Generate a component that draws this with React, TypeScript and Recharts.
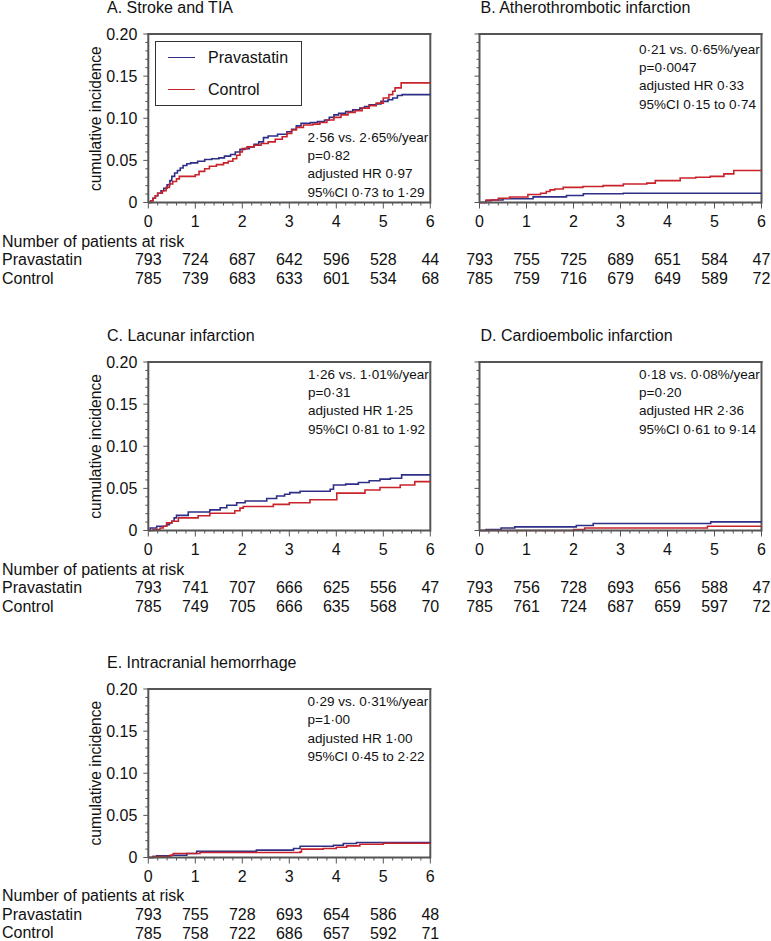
import { LineChart, Line, XAxis, YAxis, ReferenceLine, Legend } from "recharts";

// step points [years, cumulative incidence]
const strokePrav = [[0,0],[0.05,0.002],[0.1,0.005],[0.15,0.008],[0.2,0.011],[0.27,0.014],[0.33,0.017],[0.4,0.021],[0.46,0.026],[0.5,0.031],[0.56,0.035],[0.62,0.038],[0.68,0.041],[0.74,0.044],[0.82,0.046],[0.9,0.047],[1.05,0.049],[1.2,0.051],[1.35,0.052],[1.5,0.053],[1.62,0.055],[1.75,0.057],[1.85,0.06],[1.95,0.063],[2.05,0.064],[2.15,0.066],[2.25,0.069],[2.35,0.072],[2.45,0.077],[2.55,0.079],[2.75,0.081],[2.95,0.084],[3.05,0.087],[3.15,0.091],[3.25,0.094],[3.45,0.095],[3.6,0.096],[3.75,0.098],[3.85,0.101],[3.95,0.104],[4.05,0.106],[4.2,0.108],[4.35,0.11],[4.5,0.112],[4.6,0.114],[4.7,0.116],[4.85,0.117],[4.95,0.12],[5.1,0.122],[5.2,0.124],[5.3,0.127],[5.4,0.128],[6,0.128]];
const strokeCtrl = [[0,0],[0.05,0.002],[0.1,0.005],[0.15,0.008],[0.2,0.011],[0.3,0.014],[0.38,0.018],[0.45,0.022],[0.52,0.025],[0.6,0.028],[0.66,0.031],[1.0,0.033],[1.08,0.037],[1.2,0.04],[1.3,0.043],[1.45,0.045],[1.6,0.047],[1.7,0.049],[1.8,0.052],[1.88,0.056],[1.95,0.06],[2.0,0.064],[2.1,0.066],[2.25,0.068],[2.4,0.07],[2.55,0.072],[2.7,0.075],[2.85,0.078],[2.95,0.082],[3.05,0.086],[3.15,0.089],[3.3,0.092],[3.5,0.093],[3.65,0.095],[3.8,0.098],[3.95,0.101],[4.1,0.104],[4.25,0.107],[4.4,0.109],[4.55,0.112],[4.7,0.115],[4.85,0.118],[5.0,0.124],[5.12,0.128],[5.2,0.132],[5.25,0.136],[5.38,0.142],[6,0.142]];

const atheroPrav = [[0,0],[0.14,0.002],[0.25,0.003],[0.5,0.0044],[1.14,0.0067],[1.85,0.0083],[2.21,0.0103],[3.06,0.011],[6,0.011]];
const atheroCtrl = [[0,0],[0.14,0.003],[0.4,0.005],[0.64,0.0065],[1.03,0.0095],[1.3,0.011],[1.42,0.013],[1.5,0.015],[1.6,0.016],[1.78,0.018],[2.2,0.019],[2.63,0.02],[3.06,0.022],[3.56,0.023],[3.74,0.026],[4.27,0.029],[4.6,0.03],[4.91,0.031],[5.2,0.034],[5.41,0.038],[6,0.038]];

const lacunarPrav = [[0,0],[0.04,0.003],[0.18,0.005],[0.39,0.007],[0.45,0.009],[0.5,0.011],[0.55,0.015],[0.6,0.018],[0.85,0.022],[1.31,0.0245],[1.53,0.027],[1.67,0.03],[1.88,0.033],[2.06,0.035],[2.52,0.038],[2.73,0.041],[2.9,0.043],[3.01,0.045],[3.23,0.0465],[3.87,0.049],[3.94,0.054],[4.2,0.055],[4.47,0.057],[4.7,0.059],[4.93,0.061],[5.15,0.062],[5.39,0.066],[6,0.066]];
const lacunarCtrl = [[0,0],[0.1,0.001],[0.25,0.003],[0.32,0.005],[0.39,0.009],[0.5,0.011],[0.64,0.015],[1.06,0.0175],[1.31,0.0205],[1.84,0.0235],[1.95,0.0265],[2.02,0.0285],[2.66,0.031],[3.0,0.033],[3.44,0.0365],[4.01,0.0444],[4.61,0.048],[4.93,0.051],[5.36,0.054],[5.67,0.058],[6,0.058]];

const cardioPrav = [[0,0],[0.14,0.0012],[0.46,0.003],[0.75,0.0043],[2.06,0.006],[2.42,0.0083],[4.92,0.0102],[6,0.0102]];
const cardioCtrl = [[0,0],[2.0,0.0012],[2.24,0.003],[4.85,0.005],[6,0.005]];

const ichPrav = [[0,0],[0.1,0.001],[0.18,0.002],[0.5,0.0027],[0.82,0.0048],[1.03,0.0075],[2.3,0.0087],[3.09,0.0107],[3.23,0.0134],[3.94,0.0146],[4.15,0.0166],[4.43,0.0178],[6,0.018]];
const ichCtrl = [[0,0],[0.1,0.001],[0.46,0.0027],[0.53,0.0048],[1.1,0.006],[3.23,0.0067],[3.26,0.01],[3.72,0.0107],[4.0,0.0122],[4.22,0.0138],[4.5,0.0158],[5.0,0.017],[6,0.017]];

// numbers at risk at years 0..6
const riskStrokePrav = [793, 724, 687, 642, 596, 528, 44];
const riskStrokeCtrl = [785, 739, 683, 633, 601, 534, 68];
const riskAtheroPrav = [793, 755, 725, 689, 651, 584, 47];
const riskAtheroCtrl = [785, 759, 716, 679, 649, 589, 72];
const riskLacunarPrav = [793, 741, 707, 666, 625, 556, 47];
const riskLacunarCtrl = [785, 749, 705, 666, 635, 568, 70];
const riskCardioPrav = [793, 756, 728, 693, 656, 588, 47];
const riskCardioCtrl = [785, 761, 724, 687, 659, 597, 72];
const riskIchPrav = [793, 755, 728, 693, 654, 586, 48];
const riskIchCtrl = [785, 758, 722, 686, 657, 592, 71];

const statsStroke = ["2·56 vs. 2·65%/year", "p=0·82", "adjusted HR 0·97", "95%CI 0·73 to 1·29"];
const statsAthero = ["0·21 vs. 0·65%/year", "p=0·0047", "adjusted HR 0·33", "95%CI 0·15 to 0·74"];
const statsLacunar = ["1·26 vs. 1·01%/year", "p=0·31", "adjusted HR 1·25", "95%CI 0·81 to 1·92"];
const statsCardio = ["0·18 vs. 0·08%/year", "p=0·20", "adjusted HR 2·36", "95%CI 0·61 to 9·14"];
const statsIch = ["0·29 vs. 0·31%/year", "p=1·00", "adjusted HR 1·00", "95%CI 0·45 to 2·22"];

const seriesOrder = ["Pravastatin", "Control"];

const xTicks = Array.from({ length: 31 }, (_, k) => k / 5);
const yTicks = Array.from({ length: 21 }, (_, k) => k / 100);

const FONT = '"Liberation Sans", Arial, Helvetica, sans-serif';
const AXIS = "#555";
const INK = "#111";
const BLUE = "#2e2e86";
const RED = "#c8232a";
const PLOT_H = 168.5;
const TOP_PAD = 25;
const Y_W = 2;

const toPts = (arr: number[][]) => arr.map(([t, v]) => ({ t, v }));

function XTick({ x, y, payload, prav, ctrl }: any) {
  const v = payload.value;
  const i = Math.round(v);
  const major = Math.abs(v - i) < 1e-6;
  return (
    <g>
      <line x1={x} y1={y} x2={x} y2={y + (major ? 6 : 3)} stroke={AXIS} strokeWidth={1} />
      {major && (
        <>
          <text x={x} y={y + 24.5} textAnchor="middle" fontSize={16} fill={INK} fontFamily={FONT}>{i}</text>
          <text x={x} y={y + 62.5} textAnchor="middle" fontSize={16} fill={INK} fontFamily={FONT}>{prav[i]}</text>
          <text x={x} y={y + 81} textAnchor="middle" fontSize={16} fill={INK} fontFamily={FONT}>{ctrl[i]}</text>
        </>
      )}
    </g>
  );
}

function YTick({ x, y, payload, showLabel }: any) {
  const v = payload.value;
  const major = Math.abs(v * 20 - Math.round(v * 20)) < 1e-6;
  return (
    <g>
      <line x1={x - (major ? 5 : 3)} y1={y} x2={x} y2={y} stroke={AXIS} strokeWidth={1} />
      {major && showLabel && (
        <text x={x - 11} y={y + 5.5} textAnchor="end" fontSize={16} fill={INK} fontFamily={FONT}>
          {v === 0 ? "0" : v.toFixed(2)}
        </text>
      )}
    </g>
  );
}

function LegendBox({ payload }: any) {
  const rows = [...(payload || [])].sort((a: any, b: any) => seriesOrder.indexOf(a.value) - seriesOrder.indexOf(b.value));
  return (
    <div style={{ width: "100%", height: "100%", boxSizing: "border-box", border: "1.5px solid #333", position: "relative", background: "#fff", fontFamily: FONT }}>
      {rows.map((p: any, i: number) => (
        <div key={p.value} style={{ position: "absolute", left: 0, top: 6 + i * 31.5, height: 20, width: "100%" }}>
          <div style={{ position: "absolute", left: 12, top: 9, width: 27, height: 0, borderTop: `1.6px solid ${p.color}` }} />
          <div style={{ position: "absolute", left: 52, top: 0, fontSize: 16, lineHeight: "20px", color: INK }}>{p.value}</div>
        </div>
      ))}
    </div>
  );
}

function Panel({ left, plotLeft, width, plotTop, prav, ctrl, riskPrav, riskCtrl, showY, legend }: any) {
  const chartTop = plotTop - TOP_PAD;
  const height = TOP_PAD + PLOT_H + 95;
  const mLeft = plotLeft - left - Y_W;
  return (
    <div style={{ position: "absolute", left, top: chartTop }}>
      <LineChart width={width} height={height} margin={{ top: TOP_PAD, right: width - (plotLeft - left) - 282, bottom: 0, left: mLeft }}>
        <XAxis
          dataKey="t"
          type="number"
          domain={[0, 6]}
          ticks={xTicks}
          interval={0}
          height={95}
          tickSize={0}
          tickMargin={0}
          tickLine={false}
          axisLine={{ stroke: AXIS, strokeWidth: 2 }}
          tick={(p: any) => <XTick {...p} prav={riskPrav} ctrl={riskCtrl} />}
        />
        <YAxis
          type="number"
          domain={[0, 0.2]}
          ticks={yTicks}
          interval={0}
          width={Y_W}
          tickSize={0}
          tickMargin={0}
          tickLine={false}
          axisLine={{ stroke: AXIS, strokeWidth: 2 }}
          tick={(p: any) => <YTick {...p} showLabel={showY} />}
        />
        <ReferenceLine y={0.2} stroke={AXIS} strokeWidth={2} strokeLinecap="square" />
        <ReferenceLine x={6} stroke={AXIS} strokeWidth={2} strokeLinecap="square" />
        <Line data={toPts(prav)} dataKey="v" name="Pravastatin" type="stepAfter" stroke={BLUE} strokeWidth={1.6} dot={false} isAnimationActive={false} />
        <Line data={toPts(ctrl)} dataKey="v" name="Control" type="stepAfter" stroke={RED} strokeWidth={1.6} dot={false} isAnimationActive={false} />
        {legend && (
          <Legend
            layout="vertical"
            align="center"
            verticalAlign="middle"
            wrapperStyle={{ left: 155 - left, top: 41.5 - chartTop, width: 147, height: 64.5 }}
            content={(p: any) => <LegendBox payload={p.payload} />}
          />
        )}
      </LineChart>
    </div>
  );
}

const LEFT = { left: 0, plotLeft: 148.3, width: 445 };
const RIGHT = { left: 440, plotLeft: 479.5, width: 331 };
const ROW1 = 34.4;
const ROW2 = 362.2;
const ROW3 = 688.9;

function Texts() {
  const t = (x: number, y: number, s: string, size = 16, anchor = "start") => (
    <text key={`${x}-${y}-${s}`} x={x} y={y} fontSize={size} textAnchor={anchor} fill={INK} fontFamily={FONT}>{s}</text>
  );
  const stats = (x: number, y: number, lines: string[]) => lines.map((s, i) => t(x, y + i * 18.4, s, 13.5));
  const yLabel = (top: number) => (
    <text key={`yl-${top}`} x={101.5} y={top + PLOT_H / 2} transform={`rotate(-90 101.5 ${top + PLOT_H / 2})`} textAnchor="middle" fontSize={15.6} fill={INK} fontFamily={FONT}>cumulative incidence</text>
  );
  const riskLabels = (top: number) => [
    t(2, top + PLOT_H + 44, "Number of patients at risk"),
    t(2, top + PLOT_H + 62.5, "Pravastatin"),
    t(2, top + PLOT_H + 81, "Control"),
  ];
  return (
    <svg width={771} height={941} style={{ position: "absolute", left: 0, top: 0, pointerEvents: "none" }}>
      {t(107, ROW1 - 21, "A. Stroke and TIA")}
      {t(480.5, ROW1 - 21, "B. Atherothrombotic infarction")}
      {t(107, ROW2 - 21, "C. Lacunar infarction")}
      {t(480.5, ROW2 - 21, "D. Cardioembolic infarction")}
      {t(107, ROW3 - 20.5, "E. Intracranial hemorrhage")}
      {yLabel(ROW1)}
      {yLabel(ROW2)}
      {yLabel(ROW3)}
      {riskLabels(ROW1)}
      {riskLabels(ROW2)}
      {riskLabels(ROW3)}
      {stats(307.5, 141.5, statsStroke)}
      {stats(639, 53.5, statsAthero)}
      {stats(308, 378.5, statsLacunar)}
      {stats(639, 378.5, statsCardio)}
      {stats(307.5, 706, statsIch)}
    </svg>
  );
}

export default function App() {
  return (
    <div style={{ position: "absolute", left: 0, top: 0, width: 771, height: 941, background: "#fff", fontFamily: FONT }}>
      <Panel {...LEFT} plotTop={ROW1} prav={strokePrav} ctrl={strokeCtrl} riskPrav={riskStrokePrav} riskCtrl={riskStrokeCtrl} showY legend />
      <Panel {...RIGHT} plotTop={ROW1} prav={atheroPrav} ctrl={atheroCtrl} riskPrav={riskAtheroPrav} riskCtrl={riskAtheroCtrl} showY={false} />
      <Panel {...LEFT} plotTop={ROW2} prav={lacunarPrav} ctrl={lacunarCtrl} riskPrav={riskLacunarPrav} riskCtrl={riskLacunarCtrl} showY />
      <Panel {...RIGHT} plotTop={ROW2} prav={cardioPrav} ctrl={cardioCtrl} riskPrav={riskCardioPrav} riskCtrl={riskCardioCtrl} showY={false} />
      <Panel {...LEFT} plotTop={ROW3} prav={ichPrav} ctrl={ichCtrl} riskPrav={riskIchPrav} riskCtrl={riskIchCtrl} showY />
      <Texts />
    </div>
  );
}
